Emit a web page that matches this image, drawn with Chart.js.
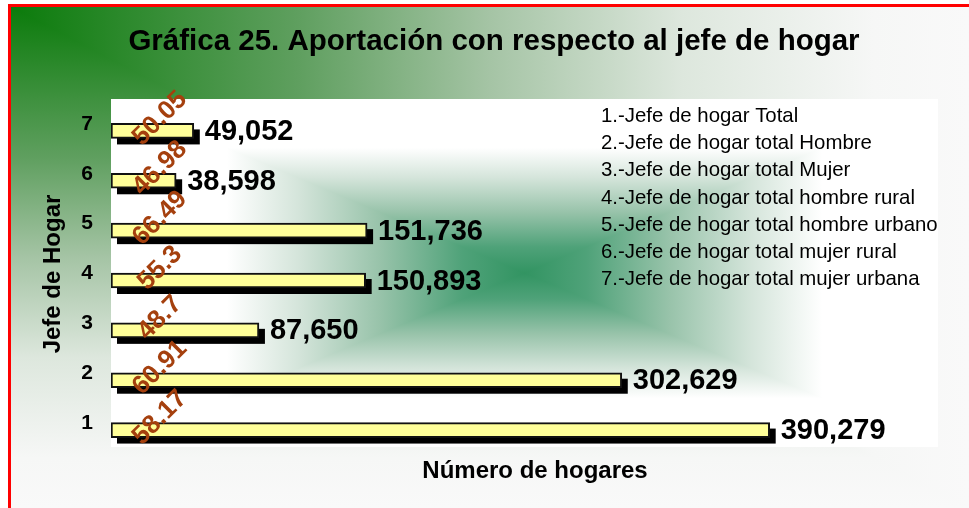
<!DOCTYPE html>
<html>
<head>
<meta charset="utf-8">
<script src="https://cdn.jsdelivr.net/npm/chart.js@4"></script>
<style>
  html, body { margin: 0; padding: 0; background: #fff; }
  canvas { display: block; }
</style>
</head>
<body>
<canvas id="myChart" width="969" height="508"></canvas>
<script>
// chart data
const categories = ['1', '2', '3', '4', '5', '6', '7'];
const hogares = [390279, 302629, 87650, 150893, 151736, 38598, 49052];
const aportacion = [58.17, 60.91, 48.7, 55.3, 66.49, 46.98, 50.05];
const legendLines = [
  '1.-Jefe de hogar Total',
  '2.-Jefe de hogar total Hombre',
  '3.-Jefe de hogar total Mujer',
  '4.-Jefe de hogar total hombre rural',
  '5.-Jefe de hogar total hombre urbano',
  '6.-Jefe de hogar total mujer rural',
  '7.-Jefe de hogar total mujer urbana'
];
const chartTitle = 'Gráfica 25. Aportación con respecto al jefe de hogar';
const xTitle = 'Número de hogares';
const yTitle = 'Jefe de Hogar';

const FONT = '"Liberation Sans", Arial, sans-serif';

// green gradients behind everything
const backgroundPlugin = {
  id: 'background',
  beforeDraw(chart) {
    const ctx = chart.ctx;
    const W = chart.width, H = chart.height;
    const area = chart.chartArea;
    ctx.save();
    ctx.fillStyle = '#ffffff';
    ctx.fillRect(0, 0, W, H);

    // gradient from the top-left corner
    const x0 = 11, y0 = 7;
    const stops = [[0, '#0b7b0b'], [0.3, '#5f9f5f'], [0.5, '#a5c4a5'], [0.7, '#dde7dd'], [0.9, '#f6f7f6'], [1, '#f9f9f9']];
    const gx = ctx.createLinearGradient(x0, 0, W, 0);
    const gy = ctx.createLinearGradient(0, y0, 0, H);
    stops.forEach(s => { gx.addColorStop(s[0], s[1]); gy.addColorStop(s[0], s[1]); });
    ctx.fillStyle = gy;
    ctx.fillRect(x0, y0, W - x0, H - y0);
    ctx.beginPath();
    ctx.moveTo(x0, y0); ctx.lineTo(W, y0); ctx.lineTo(W, H); ctx.closePath();
    ctx.fillStyle = gx; ctx.fill();

    // plot area: rectangular gradient from the centre
    const L = area.left, R = area.right, T = area.top - 7, B = area.bottom - 8;
    const cx = (L + R) / 2, cy = (T + B) / 2;
    const pStops = [[0, '#329462'], [0.15, '#4fa279'], [0.35, '#98c3aa'], [0.55, '#d5e5db'], [0.72, '#ffffff'], [1, '#ffffff']];
    const mirror = g => {
      pStops.forEach(s => {
        g.addColorStop(0.5 - s[0] / 2, s[1]);
        g.addColorStop(0.5 + s[0] / 2, s[1]);
      });
      return g;
    };
    ctx.fillStyle = mirror(ctx.createLinearGradient(0, T, 0, B));
    ctx.fillRect(L, T, R - L, B - T);
    ctx.fillStyle = mirror(ctx.createLinearGradient(L, 0, R, 0));
    ctx.beginPath();
    ctx.moveTo(L, T); ctx.lineTo(cx, cy); ctx.lineTo(L, B); ctx.closePath();
    ctx.moveTo(R, T); ctx.lineTo(cx, cy); ctx.lineTo(R, B); ctx.closePath();
    ctx.fill();

    // red frame
    ctx.fillStyle = '#ff0000';
    ctx.fillRect(8, 4, W - 8, 3);
    ctx.fillRect(8, 4, 3, H - 4);
    ctx.restore();
  }
};

// black offset block behind each bar
const shadowPlugin = {
  id: 'barShadow',
  beforeDatasetsDraw(chart) {
    const ctx = chart.ctx;
    const meta = chart.getDatasetMeta(0);
    ctx.save();
    ctx.fillStyle = '#000000';
    meta.data.forEach(bar => {
      const { x, y, base, height } = bar.getProps(['x', 'y', 'base', 'height'], true);
      ctx.fillRect(base + 6, y - height / 2 + 6, x - base, height);
    });
    ctx.restore();
  }
};

// value labels and rotated percentages
const labelPlugin = {
  id: 'barLabels',
  afterDatasetsDraw(chart) {
    const ctx = chart.ctx;
    const meta = chart.getDatasetMeta(0);
    ctx.save();
    meta.data.forEach((bar, i) => {
      const { x, y, base } = bar.getProps(['x', 'y', 'base'], true);
      ctx.fillStyle = '#000000';
      ctx.font = 'bold 29px ' + FONT;
      ctx.textAlign = 'left';
      ctx.textBaseline = 'alphabetic';
      ctx.fillText(hogares[i].toLocaleString('en-US'), x + 11, y + 9);

      ctx.save();
      ctx.translate(base + 49, y - 12.5);
      ctx.rotate(-Math.PI / 4);
      ctx.fillStyle = '#a5400e';
      ctx.font = 'bold 26px ' + FONT;
      ctx.textAlign = 'center';
      ctx.textBaseline = 'middle';
      ctx.fillText(String(aportacion[i]), 0, 0);
      ctx.restore();
    });
    ctx.restore();
  }
};

// titles and the numbered key
const textPlugin = {
  id: 'texts',
  afterDraw(chart) {
    const ctx = chart.ctx;
    ctx.save();
    ctx.fillStyle = '#000000';
    ctx.textAlign = 'center';
    ctx.textBaseline = 'alphabetic';
    ctx.font = 'bold 29.5px ' + FONT;
    ctx.fillText(chartTitle, 494, 50);

    ctx.font = 'bold 24px ' + FONT;
    ctx.fillText(xTitle, 535, 478);

    ctx.save();
    ctx.translate(60, 274);
    ctx.rotate(-Math.PI / 2);
    ctx.fillText(yTitle, 0, 0);
    ctx.restore();

    ctx.textAlign = 'left';
    ctx.textBaseline = 'middle';
    ctx.font = '20.4px ' + FONT;
    legendLines.forEach((t, i) => ctx.fillText(t, 601, 116 + i * 27.3));
    ctx.restore();
  }
};

const ctx = document.getElementById('myChart').getContext('2d');
new Chart(ctx, {
  type: 'bar',
  data: {
    labels: categories,
    datasets: [{
      label: 'Número de hogares',
      data: hogares,
      backgroundColor: '#ffff99',
      borderColor: '#111111',
      borderWidth: 2,
      borderSkipped: false,
      barThickness: 15
    }]
  },
  options: {
    indexAxis: 'y',
    responsive: false,
    animation: false,
    layout: { padding: { left: 0, right: 31, top: 106, bottom: 53 } },
    plugins: {
      legend: { display: false },
      tooltip: { enabled: false },
      title: { display: false }
    },
    scales: {
      x: {
        display: false,
        min: 0,
        max: 490000
      },
      y: {
        reverse: true,
        grid: { display: false, drawTicks: false },
        border: { display: false },
        ticks: {
          color: '#000000',
          font: { family: FONT, size: 21, weight: 'bold' },
          padding: 18,
          labelOffset: -7
        },
        afterFit(scale) { scale.width = 111; }
      }
    }
  },
  plugins: [backgroundPlugin, shadowPlugin, labelPlugin, textPlugin]
});
</script>
</body>
</html>
